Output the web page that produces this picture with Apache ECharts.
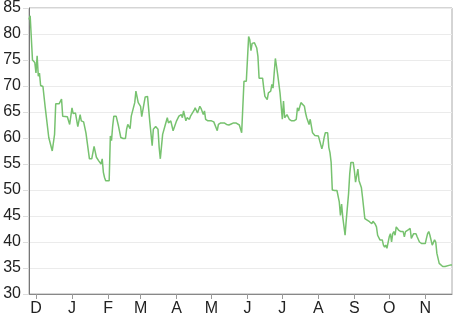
<!DOCTYPE html>
<html>
<head>
<meta charset="utf-8">
<script src="https://cdn.jsdelivr.net/npm/echarts@6/dist/echarts.min.js"></script>
<style>html,body{margin:0;padding:0;background:#fff}#c{width:466px;height:317px}</style>
</head>
<body>
<div id="c"></div>
<script>
// Day offsets counted from the start date (2008-11-24)
const startDate = [2008, 10, 24];
const dayOffsets = [1,2,4,6,7,8,9,10,11,13,15,16,18,19,21,23,24,27,29,30,34,36,38,39,41,43,45,46,48,50,51,53,55,57,59,61,63,64,65,66,67,70,71,72,73,74,76,78,80,82,84,85,86,88,89,90,92,93,95,97,98,99,101,103,104,105,107,108,110,112,113,114,116,117,118,120,121,123,125,126,128,129,130,132,133,134,135,136,137,139,140,141,143,144,146,148,149,151,152,153,155,158,160,161,163,164,166,167,169,171,173,175,177,179,180,182,183,184,186,188,190,191,192,193,195,197,198,199,202,203,204,206,207,209,210,211,212,213,214,215,216,217,219,220,221,223,224,225,227,229,231,232,233,235,236,238,239,240,242,243,244,245,247,250,251,253,254,255,256,258,259,260,261,262,264,266,267,268,269,270,271,272,273,274,276,277,278,280,281,282,284,285,286,287,288,290,292,294,296,297,299,300,301,303,305,306,307,308,309,311,312,313,314,315,316,317,319,320,321,322,323,324,325,327,328,329,330,331,332,334,335,336,337,339,342,343,344,345,346,347,348,350,351,352,354,355,357,359,360,364,365];
const values = [82.8,83.5,75.0,74.5,72.5,75.8,71.9,72.5,70.1,69.9,65.8,65.7,60.1,59.8,57.5,60.7,66.6,66.6,67.5,64.2,64.1,62.6,65.8,64.7,64.8,62.2,64.5,63.3,63.1,61.0,60.7,56.0,56.0,58.4,56.3,55.6,55.0,56.0,53.4,52.4,51.8,51.8,60.4,59.5,62.3,64.2,64.2,62.3,60.1,59.9,59.9,61.7,62.6,61.8,64.2,64.3,66.8,69.0,66.8,66.1,64.1,64.1,67.9,68.0,67.9,63.0,58.5,61.7,62.2,61.7,58.2,56.0,60.7,61.0,62.3,63.9,62.9,63.3,61.4,61.4,63.3,63.3,64.2,64.5,63.9,65.2,65.5,63.3,63.9,63.6,64.2,63.9,65.3,65.8,64.8,66.1,65.7,64.5,65.2,63.6,63.3,63.3,63.1,62.9,61.4,62.6,62.9,62.6,62.9,62.6,62.5,62.7,62.9,62.9,62.6,62.5,62.3,61.0,70.9,70.9,79.5,78.9,76.8,78.2,78.3,77.3,75.7,71.5,71.5,69.6,68.0,67.4,68.7,69.0,70.3,69.6,72.5,75.3,73.8,72.2,72.0,68.7,63.6,67.1,63.9,64.5,64.5,63.6,63.3,63.3,63.6,65.8,65.2,66.8,66.9,66.1,64.8,63.9,62.6,63.6,63.5,61.0,60.5,60.4,60.1,57.9,58.8,60.1,61.0,61.0,58.2,57.2,55.3,50.0,49.9,49.9,49.6,47.7,45.1,47.3,44.8,44.8,41.3,44.2,49.3,53.1,55.3,55.3,53.7,51.5,54.0,51.8,51.9,50.5,48.6,44.5,44.2,43.9,43.5,44.0,43.4,42.9,41.3,40.4,40.4,39.4,39.0,39.4,38.8,41.0,41.6,40.0,41.6,42.0,41.3,42.9,42.3,42.6,42.0,42.3,42.0,41.0,42.0,42.3,42.0,42.6,40.7,40.4,41.6,41.6,41.0,41.3,40.0,39.7,39.7,40.7,41.6,42.0,41.3,41.0,39.4,40.4,40.0,37.8,35.9,35.6,35.3,35.3,35.6,35.6,35.6];
const monthLetters = ['J','F','M','A','M','J','J','A','S','O','N','D'];
const yTicks = {min: 30, max: 85, step: 5};
const axisStartOffset = 1;
const axisEndOffset = 365;

function dayToTime(d) {
  return new Date(startDate[0], startDate[1], startDate[2] + d).getTime();
}
const seriesData = dayOffsets.map((d, i) => [dayToTime(d), values[i]]);

const chart = echarts.init(document.getElementById('c'), null, {renderer: 'canvas'});
const font = 'Liberation Sans, Arial, Helvetica, sans-serif';
chart.setOption({
  animation: false,
  grid: {left: 29, right: 14, top: 6, bottom: 23, show: true, borderColor: '#aaa', borderWidth: 1},
  xAxis: {
    type: 'time',
    min: dayToTime(axisStartOffset),
    max: dayToTime(axisEndOffset),
    minInterval: 28 * 86400000,
    maxInterval: 31 * 86400000,
    axisLine: {show: true, lineStyle: {color: '#888', width: 1}},
    axisTick: {show: true, length: 5, lineStyle: {color: '#999'}},
    splitLine: {show: false},
    axisLabel: {
      fontSize: 16, color: '#222', fontFamily: font, margin: 7,
      showMinLabel: false, showMaxLabel: false,
      formatter: function (val) { return monthLetters[new Date(val).getMonth()]; }
    }
  },
  yAxis: {
    type: 'value',
    min: yTicks.min, max: yTicks.max, interval: yTicks.step,
    axisLine: {show: true, lineStyle: {color: '#777', width: 1}},
    axisTick: {show: true, length: 6, lineStyle: {color: '#ddd'}},
    splitLine: {show: true, lineStyle: {color: '#ebebeb', width: 1}},
    axisLabel: {fontSize: 16, color: '#222', fontFamily: font, margin: 8}
  },
  series: [{
    type: 'line',
    data: seriesData,
    showSymbol: false,
    symbol: 'none',
    lineStyle: {color: '#77c26f', width: 1.5},
    itemStyle: {color: '#77c26f'}
  }]
});
</script>
</body>
</html>
